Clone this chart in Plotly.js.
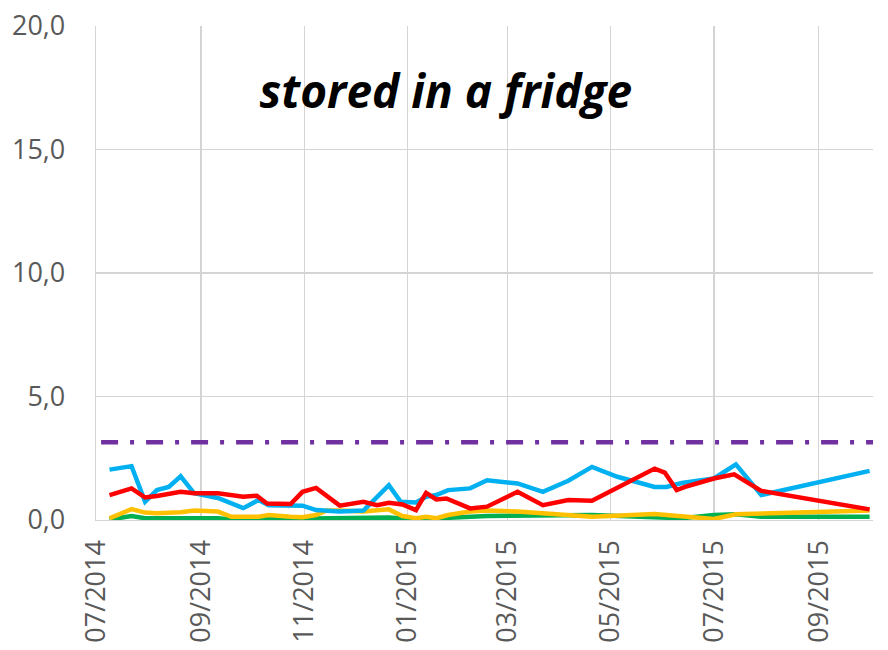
<!DOCTYPE html>
<html>
<head>
<meta charset="utf-8">
<script src="https://cdn.plot.ly/plotly-3.0.1.min.js"></script>
<style>html,body{margin:0;padding:0;background:#fff;}#chart{width:888px;height:650px;}</style>
</head>
<body>
<div id="chart"></div>
<script>
// ---- data ----
const titleText = "stored in a fridge";

const blueDates = ["2014-07-09","2014-07-22","2014-07-30","2014-08-06","2014-08-13","2014-08-20","2014-08-28","2014-09-11","2014-09-26","2014-10-05","2014-10-11","2014-10-24","2014-10-31","2014-11-08","2014-11-22","2014-12-06","2014-12-21","2014-12-28","2015-01-06","2015-01-12","2015-01-18","2015-01-25","2015-02-07","2015-02-17","2015-03-07","2015-03-22","2015-04-06","2015-04-20","2015-05-05","2015-05-27","2015-06-03","2015-06-12","2015-07-01","2015-07-14","2015-07-29","2015-10-01"];
const blueValues = [2.04,2.18,0.74,1.21,1.34,1.77,1.08,0.89,0.48,0.81,0.60,0.60,0.58,0.40,0.34,0.38,1.41,0.74,0.71,0.94,1.01,1.21,1.28,1.61,1.48,1.14,1.59,2.15,1.75,1.34,1.34,1.50,1.68,2.25,1.01,1.99];

const redDates = ["2014-07-09","2014-07-22","2014-07-30","2014-08-06","2014-08-20","2014-08-28","2014-09-11","2014-09-26","2014-10-04","2014-10-10","2014-10-24","2014-10-31","2014-11-08","2014-11-22","2014-12-06","2014-12-14","2014-12-21","2014-12-29","2015-01-06","2015-01-12","2015-01-18","2015-01-24","2015-02-07","2015-02-17","2015-03-07","2015-03-22","2015-04-06","2015-04-20","2015-05-27","2015-06-02","2015-06-09","2015-06-14","2015-07-01","2015-07-13","2015-07-29","2015-10-01"];
const redValues = [1.01,1.28,0.91,0.97,1.14,1.08,1.08,0.94,0.98,0.67,0.65,1.14,1.30,0.58,0.74,0.60,0.70,0.63,0.40,1.10,0.83,0.87,0.47,0.54,1.14,0.60,0.81,0.78,2.08,1.92,1.21,1.34,1.68,1.85,1.18,0.43];

const yellowDates = ["2014-07-09","2014-07-22","2014-07-30","2014-08-06","2014-08-20","2014-08-28","2014-09-11","2014-09-19","2014-10-05","2014-10-11","2014-10-24","2014-10-31","2014-11-08","2014-11-14","2014-11-22","2014-12-06","2014-12-21","2014-12-29","2015-01-06","2015-01-12","2015-01-18","2015-01-25","2015-02-07","2015-02-17","2015-03-07","2015-03-22","2015-04-06","2015-04-20","2015-05-27","2015-06-12","2015-07-01","2015-07-14","2015-10-01"];
const yellowValues = [0.07,0.44,0.30,0.27,0.31,0.38,0.34,0.13,0.13,0.20,0.13,0.11,0.20,0.38,0.38,0.34,0.43,0.16,0.07,0.13,0.07,0.20,0.34,0.38,0.34,0.27,0.24,0.13,0.24,0.13,0.04,0.23,0.38];

const greenDates = ["2014-07-09","2014-07-22","2014-07-30","2014-08-20","2014-09-11","2014-09-19","2014-10-24","2014-12-21","2015-01-06","2015-02-17","2015-04-20","2015-06-12","2015-07-01","2015-07-14","2015-07-29","2015-10-01"];
const greenValues = [0.02,0.16,0.07,0.07,0.07,0.02,0.04,0.10,0.03,0.16,0.20,0.07,0.20,0.23,0.13,0.13];

const limitDates = ["2014-07-04","2015-10-20"];
const limitValues = [3.15,3.15];

const xRange = ["2014-07-01","2015-10-03"];
const yRange = [0,20];
const yTicks = [0,5,10,15,20];

// ---- chart ----
const traces = [
  {x: limitDates, y: limitValues, mode: "lines", line: {color: "#7030A0", width: 4.5, dash: "17px,12px,4px,12px"}, hoverinfo: "skip"},
  {x: greenDates, y: greenValues, mode: "lines", line: {color: "#00B050", width: 4.5}},
  {x: yellowDates, y: yellowValues, mode: "lines", line: {color: "#FFC000", width: 4.5}},
  {x: blueDates, y: blueValues, mode: "lines", line: {color: "#00B0F0", width: 4.5}},
  {x: redDates, y: redValues, mode: "lines", line: {color: "#FF0000", width: 4.5}}
];

const layout = {
  width: 888, height: 650,
  margin: {l: 96, r: 15, t: 26, b: 130},
  paper_bgcolor: "#fff", plot_bgcolor: "#fff",
  showlegend: false,
  separators: ",.",
  font: {family: "Open Sans, sans-serif", color: "#595959"},
  title: {text: "<b><i>" + titleText + "</i></b>", font: {family: "Open Sans, sans-serif", size: 46, color: "#000"}, x: 0.502, xanchor: "center", y: 0.858, yanchor: "middle"},
  xaxis: {
    type: "date", range: xRange, tick0: "2014-07-01", dtick: "M2", tickformat: "%m/%Y",
    tickangle: -90, tickfont: {size: 27, color: "#595959"},
    showgrid: true, gridcolor: "#D4D4D4", gridwidth: 1.3,
    showline: true, linecolor: "#D4D4D4", linewidth: 1.3,
    ticks: "", ticklabelstandoff: 8, zeroline: false, fixedrange: true
  },
  yaxis: {
    range: yRange, tickvals: yTicks, tickformat: ".1f",
    tickfont: {size: 27, color: "#595959"},
    showgrid: true, gridcolor: "#D4D4D4", gridwidth: 1.3,
    showline: true, linecolor: "#D4D4D4", linewidth: 1.3,
    ticks: "", ticklabelstandoff: 24, zeroline: false, fixedrange: true
  }
};

Plotly.newPlot("chart", traces, layout, {displayModeBar: false, staticPlot: true});
</script>
</body>
</html>
